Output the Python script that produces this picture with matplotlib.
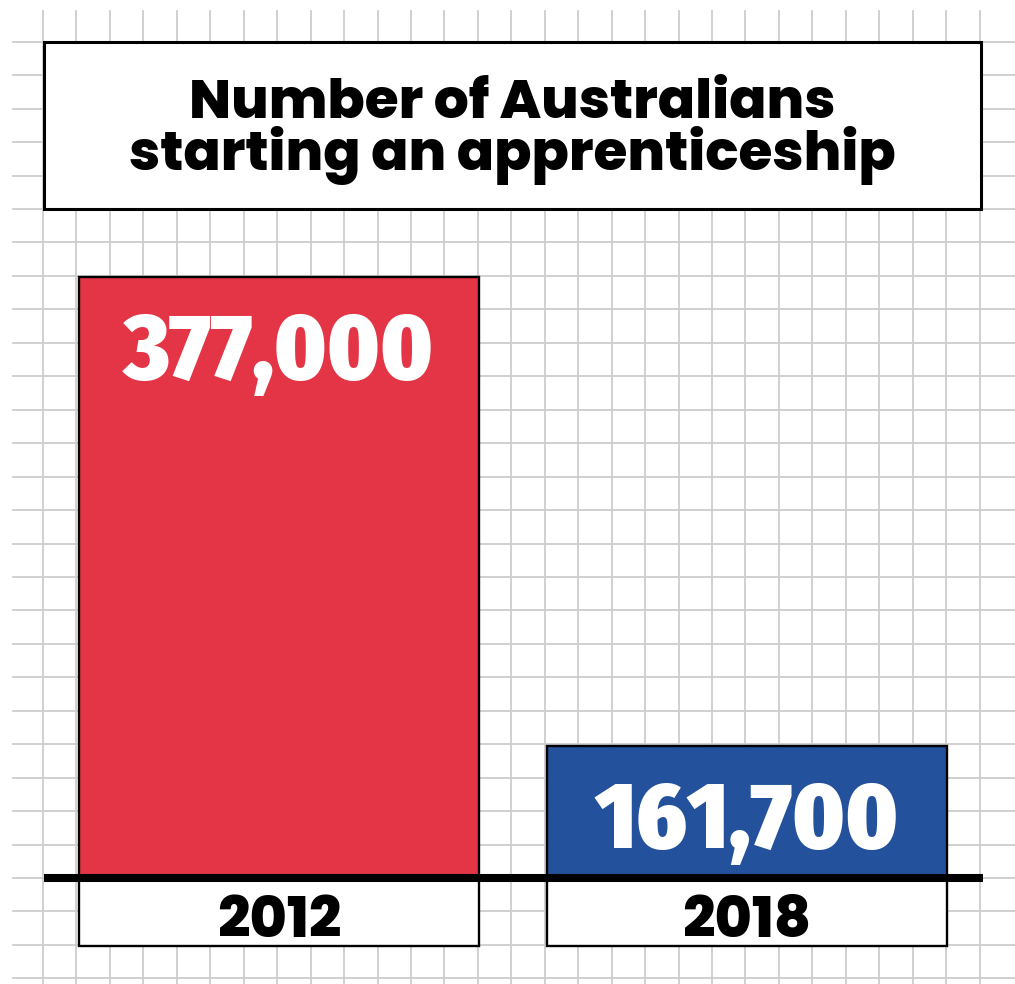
import matplotlib.pyplot as plt
from matplotlib.patches import Rectangle

# Chart data
years = ['2012', '2018']
values = [377000, 161700]
# bar heights as drawn on the page, in grid squares (the artwork is not to scale)
bar_heights = [17.97, 3.95]
bar_colors = ['#E33545', '#24519B']
title_lines = ['Number of Australians', 'starting an apprenticeship']

CELL = 33.45  # grid square in pixels
W, H = 1015, 984

fig = plt.figure(figsize=(W / 100, H / 100), dpi=100)
ax = fig.add_axes([0, 0, 1, 1])
ax.set_xlim(-43 / CELL, (W - 43) / CELL)
ax.set_ylim((878 - H) / CELL, 878 / CELL)
ax.axis('off')

# graph paper background
grid_kw = dict(color='#cdcdcd', lw=1.3, zorder=0)
for gy in range(-3, 26):
    ax.plot([-0.9, 30], [gy, gy], **grid_kw)
for gx in range(0, 29):
    ax.plot([gx, gx], [-4, 25.92], **grid_kw)

# title box
ax.add_patch(Rectangle((0.03, 20.0), 28.0, 5.0, facecolor='white',
                       edgecolor='black', lw=2.2, zorder=2))
title_font = dict(family=['Poppins', 'DejaVu Sans'], weight=800, color='black')
ax.text(14.04, 22.72, title_lines[0], ha='center', va='baseline', size=39.5,
        zorder=3, **title_font)
ax.text(14.04, 21.17, title_lines[1], ha='center', va='baseline', size=39.5,
        zorder=3, **title_font)

# bars and year boxes
xpos = [7.05, 21.05]
ax.bar(xpos, bar_heights, width=11.96, color=bar_colors, edgecolor='black',
       lw=1.7, zorder=2)
ax.bar(xpos, [-2.03] * len(xpos), width=11.96, color='white', edgecolor='black',
       lw=1.7, zorder=2)

# baseline
ax.plot([0.03, 28.1], [0, 0], color='black', lw=5.8, solid_capstyle='butt', zorder=4)

for x, h, v, yr in zip(xpos, bar_heights, values, years):
    ax.text(x, h - 3.05, f'{v:,}', ha='center', va='baseline', color='white',
            family=['Fira Sans Condensed', 'DejaVu Sans'], weight=900,
            size=68, zorder=5)
    ax.text(x, -1.76, yr, ha='center', va='baseline', size=41, zorder=5, **title_font)

fig.savefig('out.png', dpi=100)
